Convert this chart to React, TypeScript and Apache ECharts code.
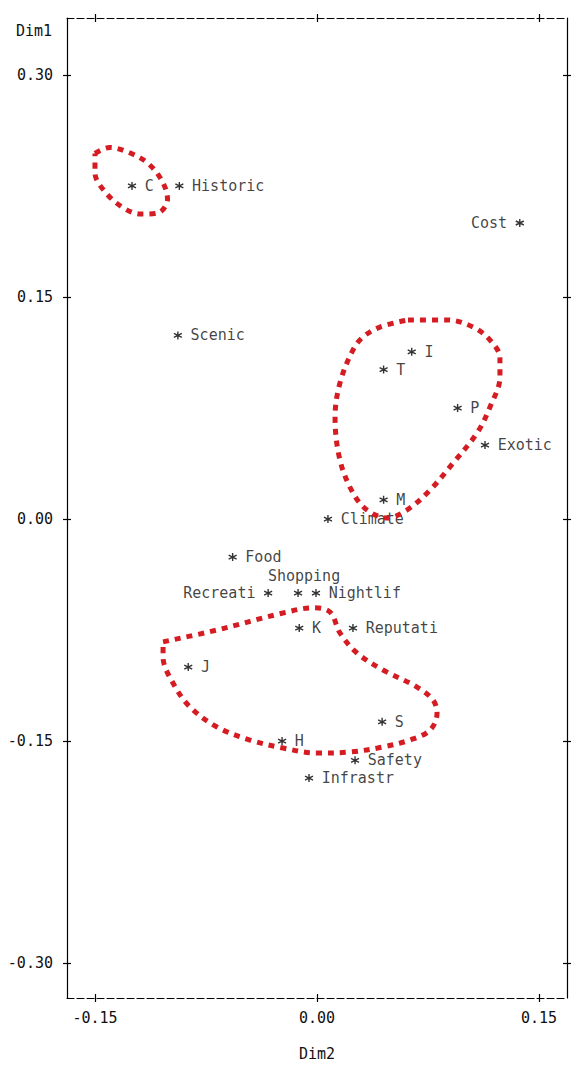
import React, { useEffect, useRef } from "react";
import * as echarts from "echarts";

// Point names and coordinates (Dim2 = horizontal, Dim1 = vertical)
const names = ["C", "Historic", "Cost", "Scenic", "I", "T", "P", "Exotic", "M", "Climate", "Food", "Recreati", "Shopping", "Nightlif", "K", "Reputati", "J", "S", "H", "Safety", "Infrastr"];
const dim2 = [-0.125, -0.093, 0.137, -0.094, 0.064, 0.045, 0.095, 0.1135, 0.045, 0.0074, -0.057, -0.033, -0.0128, -0.0007, -0.012, 0.0243, -0.087, 0.044, -0.0236, 0.0257, -0.0054];
const dim1 = [0.225, 0.225, 0.2, 0.124, 0.113, 0.101, 0.075, 0.05, 0.013, 0.0, -0.0257, -0.05, -0.05, -0.05, -0.0737, -0.0737, -0.1, -0.137, -0.15, -0.163, -0.175];

// Tick values
const xTicks = [-0.15, 0.0, 0.15];
const yTicks = [-0.3, -0.15, 0.0, 0.15, 0.3];

// Hand-drawn cluster outlines [Dim2, Dim1]
const loopC: number[][] = [
  [-0.150, 0.247], [-0.140, 0.251], [-0.128, 0.248], [-0.115, 0.241], [-0.105, 0.229],
  [-0.101, 0.216], [-0.107, 0.207], [-0.119, 0.206], [-0.132, 0.211], [-0.144, 0.222],
  [-0.150, 0.234], [-0.150, 0.247],
];
const loopITPM: number[][] = [
  [0.0615, 0.1345], [0.0878, 0.1345], [0.1054, 0.1297], [0.1169, 0.1209], [0.1236, 0.1088],
  [0.1236, 0.0959], [0.1169, 0.0757], [0.1081, 0.0581], [0.0919, 0.0378], [0.0764, 0.0196],
  [0.0608, 0.0061], [0.0473, 0.0007], [0.0338, 0.0061], [0.0243, 0.0176], [0.0155, 0.0399],
  [0.0122, 0.0689], [0.0155, 0.0919], [0.0243, 0.1142], [0.0311, 0.123], [0.0426, 0.1297],
  [0.0615, 0.1345],
];
const loopJHS: number[][] = [
  [-0.104, -0.083], [-0.0676, -0.075], [-0.023, -0.0635], [-0.0027, -0.06], [0.0088, -0.0628],
  [0.0155, -0.077], [0.027, -0.0905], [0.0446, -0.102], [0.0676, -0.1135], [0.0784, -0.1223],
  [0.0811, -0.1311], [0.0764, -0.1426], [0.0628, -0.1493], [0.0446, -0.154], [0.0223, -0.1574],
  [0.0, -0.1581], [-0.023, -0.1547], [-0.0453, -0.1493], [-0.0676, -0.1405], [-0.0858, -0.127],
  [-0.0973, -0.1108], [-0.104, -0.0932], [-0.104, -0.083],
];

const X_MIN = -0.1689;
const X_MAX = 0.1689;
const Y_MIN = -0.3236;
const Y_MAX = 0.3385;

const FONT = "DejaVu Sans Mono";
const leftLabels = ["Cost", "Recreati"];
const topLabels = ["Shopping"];

const ASTERISK = "path://M5 0 L5 10 M0.67 2.5 L9.33 7.5 M0.67 7.5 L9.33 2.5";

export default function App() {
  const ref = useRef<HTMLDivElement>(null);

  useEffect(() => {
    if (!ref.current) return;
    const chart = echarts.init(ref.current, undefined, { renderer: "svg" });

    const fmt = (v: number) => v.toFixed(2);
    const lineDash = { color: "#000", width: 1.2, type: [7, 3] as any };
    const lineSolid = { color: "#000", width: 1.2 };

    const labelCfg = (show: boolean, ticks: number[], margin: number) =>
      show
        ? { show: true, customValues: ticks, formatter: fmt, margin, fontFamily: FONT, fontSize: 15, color: "#111" }
        : { show: false };

    const xAxisBase = (position: string, inside: boolean, showLine: boolean, showLabel: boolean, extra: any = {}) => ({
      type: "value",
      position,
      min: X_MIN,
      max: X_MAX,
      splitLine: { show: false },
      axisLine: { show: showLine, onZero: false, lineStyle: lineDash },
      axisTick: { show: true, inside, length: 4, customValues: xTicks, lineStyle: lineSolid },
      axisLabel: labelCfg(showLabel, xTicks, 12),
      ...extra,
    });

    const yAxisBase = (position: string, inside: boolean, showLine: boolean, showLabel: boolean, extra: any = {}) => ({
      type: "value",
      position,
      min: Y_MIN,
      max: Y_MAX,
      splitLine: { show: false },
      axisLine: { show: showLine, onZero: false, lineStyle: lineSolid },
      axisTick: { show: true, inside, length: 4, customValues: yTicks, lineStyle: lineSolid },
      axisLabel: labelCfg(showLabel, yTicks, 14),
      ...extra,
    });

    const pointData = names.map((n, i) => {
      const item: any = { name: n, value: [dim2[i], dim1[i]] };
      if (leftLabels.includes(n)) {
        item.label = { position: "left" };
      } else if (topLabels.includes(n)) {
        item.label = { position: "top", distance: 5, offset: [6, 0] };
      }
      return item;
    });

    const loopSeries = (data: number[][]) => ({
      type: "line",
      data,
      xAxisIndex: 0,
      yAxisIndex: 0,
      smooth: 0.35,
      symbol: "none",
      z: 5,
      silent: true,
      lineStyle: { color: "#d41c22", width: 5, type: [6, 6], cap: "butt" },
    });

    chart.setOption({
      animation: false,
      backgroundColor: "#fff",
      grid: { left: 67, right: 5, top: 18, bottom: 68 },
      xAxis: [
        xAxisBase("bottom", false, true, true, {
          name: "Dim2",
          nameLocation: "middle",
          nameGap: 48,
          nameTextStyle: { fontFamily: FONT, fontSize: 15, color: "#111" },
        }),
        xAxisBase("bottom", true, false, false),
        xAxisBase("top", false, true, false),
        xAxisBase("top", true, false, false),
      ],
      yAxis: [
        yAxisBase("left", false, true, true, {
          name: "Dim1",
          nameLocation: "end",
          nameGap: -20,
          nameTextStyle: { fontFamily: FONT, fontSize: 15, color: "#111", align: "right", padding: [0, 15, 0, 0] },
        }),
        yAxisBase("left", true, false, false),
        yAxisBase("right", false, true, false),
        yAxisBase("right", true, false, false),
      ],
      series: [
        {
          type: "scatter",
          xAxisIndex: 0,
          yAxisIndex: 0,
          data: pointData,
          symbol: ASTERISK,
          symbolSize: 8,
          itemStyle: { color: "rgba(0,0,0,0)", borderColor: "#000", borderWidth: 1.4 },
          label: {
            show: true,
            position: "right",
            distance: 8,
            formatter: "{b}",
            fontFamily: FONT,
            fontSize: 15,
            color: "#111",
          },
          z: 3,
        },
        loopSeries(loopC),
        loopSeries(loopITPM),
        loopSeries(loopJHS),
      ],
    });

    return () => chart.dispose();
  }, []);

  return (
    <div
      ref={ref}
      style={{ position: "absolute", left: 0, top: 0, width: 572, height: 1066, background: "#fff" }}
    />
  );
}
